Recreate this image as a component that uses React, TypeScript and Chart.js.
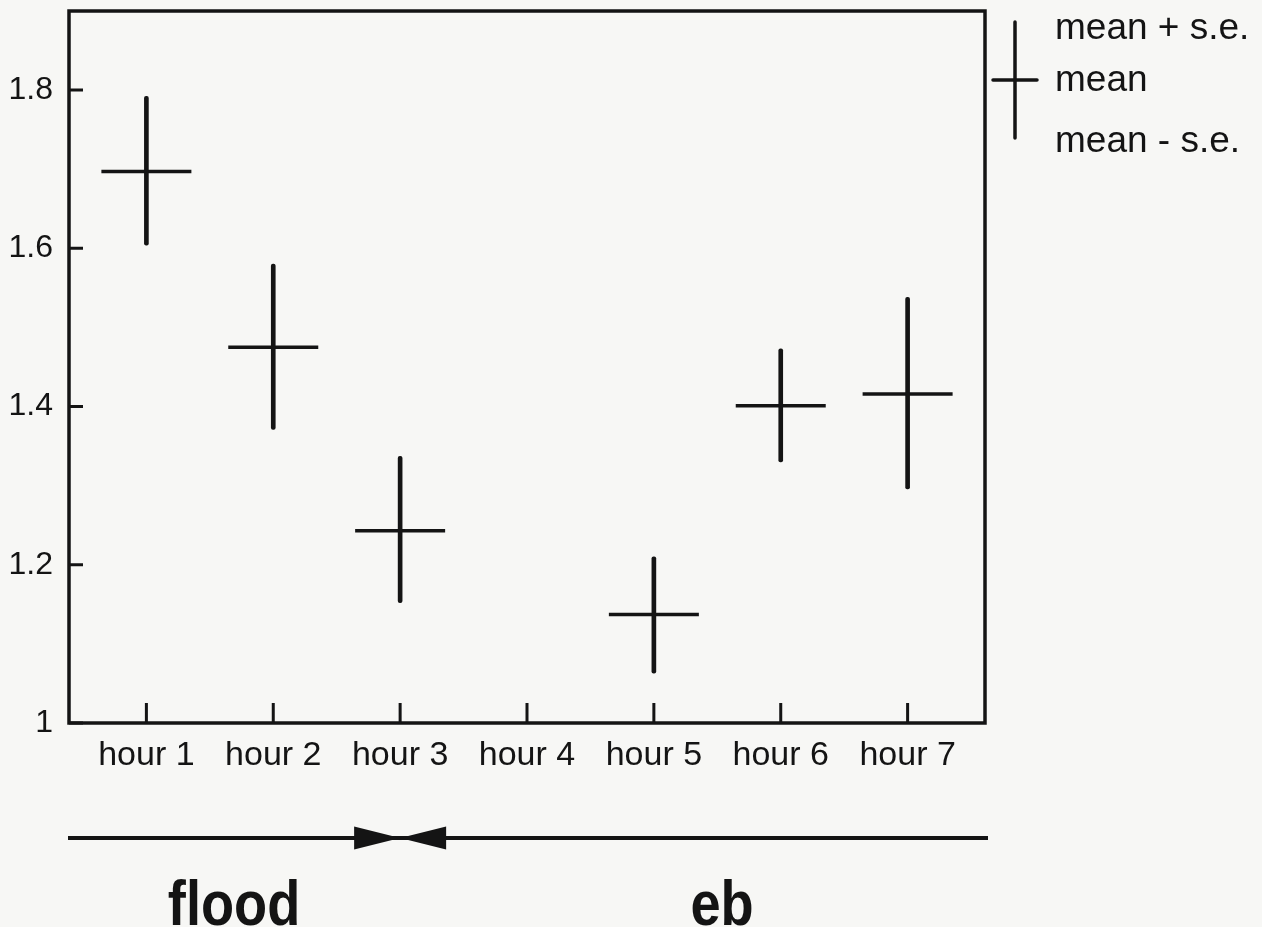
import React, { useEffect, useRef } from "react";
import { Chart, registerables } from "chart.js";

Chart.register(...registerables);

// Tidal sampling hours and their tick labels
const HOUR_LABELS = ["hour 1", "hour 2", "hour 3", "hour 4", "hour 5", "hour 6", "hour 7"];
const HOUR_POSITIONS = [1, 2, 3, 4, 5, 6, 7];

// Mean and mean ± standard error per hour (no sample at hour 4)
const MEAN = [1.697, 1.475, 1.243, null, 1.137, 1.401, 1.416];
const MEAN_PLUS_SE = [1.792, 1.58, 1.337, null, 1.21, 1.473, 1.538];
const MEAN_MINUS_SE = [1.604, 1.371, 1.152, null, 1.063, 1.33, 1.296];

// Y-axis ticks
const Y_TICKS = [1, 1.2, 1.4, 1.6, 1.8];

// Legend key text, tide phase names and the hour where flood turns to ebb
const LEGEND_LABELS = ["mean + s.e.", "mean", "mean - s.e."];
const PHASE_LABELS = ["flood", "eb"];
const TIDE_TURN_HOUR = 3;

const INK = "#141414";
const PAPER = "#f7f7f5";
const FONT = '"Liberation Sans", Arial, Helvetica, sans-serif';

const W = 1262;
const H = 927;

const decorPlugin = {
  id: "decor",
  beforeDraw(chart: any) {
    const { ctx } = chart;
    ctx.save();
    ctx.fillStyle = PAPER;
    ctx.fillRect(0, 0, chart.width, chart.height);
    ctx.restore();
  },
  afterDatasetsDraw(chart: any) {
    const { ctx, chartArea: a, scales } = chart;
    const x = scales.x;
    const y = scales.y;
    ctx.save();
    ctx.strokeStyle = INK;
    ctx.fillStyle = INK;
    ctx.lineCap = "butt";

    // plot frame
    ctx.lineWidth = 3.5;
    ctx.strokeRect(a.left, a.top, a.right - a.left, a.bottom - a.top);

    // inward tick marks
    ctx.lineWidth = 3;
    ctx.beginPath();
    HOUR_POSITIONS.forEach((h) => {
      const px = x.getPixelForValue(h);
      ctx.moveTo(px, a.bottom);
      ctx.lineTo(px, a.bottom - 20);
    });
    Y_TICKS.forEach((v) => {
      const py = y.getPixelForValue(v);
      ctx.moveTo(a.left, py);
      ctx.lineTo(a.left + 14, py);
    });
    ctx.stroke();

    // legend key: a cross with its three labels
    const kx = a.right + 30;
    ctx.lineWidth = 3.5;
    ctx.lineCap = "round";
    ctx.beginPath();
    ctx.moveTo(kx, 22);
    ctx.lineTo(kx, 138);
    ctx.moveTo(kx - 22, 80);
    ctx.lineTo(kx + 22, 80);
    ctx.stroke();
    ctx.font = `37px ${FONT}`;
    ctx.textAlign = "left";
    ctx.textBaseline = "alphabetic";
    const baselines = [39, 91, 152];
    LEGEND_LABELS.forEach((t, i) => ctx.fillText(t, a.right + 70, baselines[i]));

    // tide arrow: flood runs in from the left, ebb from the right, meeting at the turn
    const turn = x.getPixelForValue(TIDE_TURN_HOUR);
    const ay = 838;
    const left = a.left - 1;
    const right = a.right + 3;
    ctx.lineCap = "butt";
    ctx.lineWidth = 4;
    ctx.beginPath();
    ctx.moveTo(left, ay);
    ctx.lineTo(right, ay);
    ctx.stroke();
    ctx.beginPath();
    ctx.moveTo(turn - 46, ay - 11.5);
    ctx.lineTo(turn, ay);
    ctx.lineTo(turn - 46, ay + 11.5);
    ctx.closePath();
    ctx.moveTo(turn + 46, ay - 11.5);
    ctx.lineTo(turn, ay);
    ctx.lineTo(turn + 46, ay + 11.5);
    ctx.closePath();
    ctx.fill();

    // phase names under the arrow
    ctx.font = `bold 63px ${FONT}`;
    ctx.textAlign = "center";
    const centers = [(left + turn) / 2, (turn + right) / 2 + 28];
    PHASE_LABELS.forEach((t, i) => {
      ctx.save();
      ctx.translate(centers[i], 925);
      ctx.scale(0.86, 1);
      ctx.fillText(t, 0, 0);
      ctx.restore();
    });
    ctx.restore();
  },
};

export default function App() {
  const canvasRef = useRef<HTMLCanvasElement | null>(null);

  useEffect(() => {
    const canvas = canvasRef.current;
    if (!canvas) return;

    const idx = HOUR_POSITIONS.map((_, i) => i).filter((i) => MEAN[i] !== null);
    const seBars = idx.map((i) => ({ x: HOUR_POSITIONS[i], y: [MEAN_MINUS_SE[i], MEAN_PLUS_SE[i]] }));
    const means = idx.map((i) => ({ x: HOUR_POSITIONS[i], y: MEAN[i] }));

    const chart = new Chart(canvas, {
      type: "bar",
      data: {
        datasets: [
          {
            type: "bar",
            label: "s.e.",
            data: seBars as any,
            backgroundColor: INK,
            borderWidth: 0,
            borderRadius: 2,
            borderSkipped: false,
            barThickness: 4,
            grouped: false,
          } as any,
          {
            type: "scatter",
            label: "mean",
            data: means as any,
            pointStyle: "line",
            pointRadius: 45,
            pointHoverRadius: 45,
            borderColor: INK,
            borderWidth: 3.5,
            showLine: false,
          } as any,
        ],
      },
      options: {
        responsive: false,
        animation: false,
        events: [],
        layout: {
          autoPadding: false,
          padding: { left: 0, top: 11, right: W - 985, bottom: H - 723 - 60 },
        },
        plugins: {
          legend: { display: false },
          tooltip: { enabled: false },
        },
        scales: {
          x: {
            type: "linear",
            min: 0.39,
            max: 7.61,
            offset: false,
            grid: { display: false, drawTicks: false },
            border: { display: false },
            afterBuildTicks: (s: any) => {
              s.ticks = HOUR_POSITIONS.map((v) => ({ value: v }));
            },
            afterFit: (s: any) => {
              s.height = 60;
              s.paddingLeft = 0;
              s.paddingRight = 0;
            },
            ticks: {
              autoSkip: false,
              maxRotation: 0,
              padding: 12,
              color: INK,
              font: { family: FONT, size: 34 },
              callback: (v: any) => HOUR_LABELS[HOUR_POSITIONS.indexOf(Number(v))] ?? "",
            },
          },
          y: {
            type: "linear",
            min: 1,
            max: 1.9,
            grid: { display: false, drawTicks: false },
            border: { display: false },
            afterBuildTicks: (s: any) => {
              s.ticks = Y_TICKS.map((v) => ({ value: v }));
            },
            afterFit: (s: any) => {
              s.width = 69;
              s.paddingTop = 0;
              s.paddingBottom = 0;
            },
            ticks: {
              padding: 16,
              color: INK,
              font: { family: FONT, size: 32 },
              callback: (v: any) => `${+Number(v).toFixed(1)}`,
            },
          },
        },
      } as any,
      plugins: [decorPlugin],
    });

    return () => chart.destroy();
  }, []);

  return (
    <div style={{ position: "absolute", left: 0, top: 0, width: W, height: H, background: PAPER }}>
      <canvas ref={canvasRef} width={W} height={H} style={{ display: "block" }} />
    </div>
  );
}
